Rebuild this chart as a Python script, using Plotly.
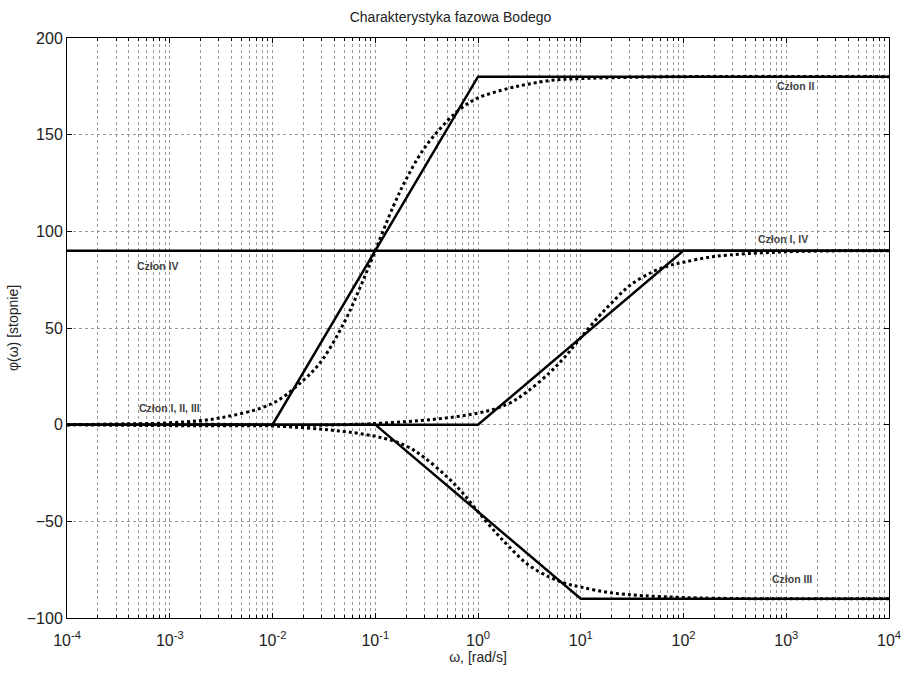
import math
import plotly.graph_objects as go

# Asymptotic (solid) characteristics
w_I_asym = [1e-4, 1, 100, 1e4]
phi_I_asym = [0, 0, 90, 90]
w_II_asym = [1e-4, 0.01, 1, 1e4]
phi_II_asym = [0, 0, 180, 180]
w_III_asym = [1e-4, 0.1, 10, 1e4]
phi_III_asym = [0, 0, -90, -90]
w_IV = [1e-4, 1e4]
phi_IV = [90, 90]

# Exact (dotted) characteristics
w_II = [1e-4, 1e-3, 3e-3, 1e-2, 2e-2, 3e-2, 5e-2, 7e-2, 0.1, 0.15, 0.2, 0.3, 0.5, 0.7, 1, 2, 3, 5, 10, 100, 1e4]
phi_II = [0, 1, 3.4, 11, 23, 33, 53, 70, 90, 113, 127, 143, 157, 164, 169, 174, 176, 178, 179, 180, 180]
w_III = [1e-4, 1e-2, 0.1, 0.2, 0.3, 0.5, 0.7, 1, 1.5, 2, 3, 5, 7, 10, 20, 100, 1e4]
phi_III = [0, -0.6, -6, -11, -17, -27, -35, -45, -56, -63, -72, -79, -82, -84, -87, -89.4, -90]
w_I = [1e-4, 0.1, 1, 2, 3, 5, 7, 10, 15, 20, 30, 50, 70, 100, 200, 1000, 1e4]
phi_I = [0, 0.6, 6, 11, 17, 27, 35, 45, 56, 63, 72, 79, 82, 84, 87, 89.4, 90]

x_tickvals = [1e-4, 1e-3, 1e-2, 1e-1, 1, 10, 100, 1000, 1e4]
x_ticktext = ["10<sup>-4</sup>", "10<sup>-3</sup>", "10<sup>-2</sup>", "10<sup>-1</sup>", "10<sup>0</sup>",
              "10<sup>1</sup>", "10<sup>2</sup>", "10<sup>3</sup>", "10<sup>4</sup>"]

labels = ["Człon II", "Człon I, IV", "Człon IV", "Człon I, II, III", "Człon III"]
label_w = [1217, 930, 7.6e-4, 1e-3, 1150]
label_phi = [175, 96, 82, 8.8, -80]

fig = go.Figure()
solid = dict(color="black", width=2.5)
dotted = dict(color="black", width=3, dash="dot")
for w, p in [(w_II, phi_II), (w_III, phi_III), (w_I, phi_I)]:
    fig.add_trace(go.Scatter(x=w, y=p, mode="lines", line=dotted, line_shape="spline", showlegend=False))
for w, p in [(w_I_asym, phi_I_asym), (w_II_asym, phi_II_asym), (w_III_asym, phi_III_asym), (w_IV, phi_IV)]:
    fig.add_trace(go.Scatter(x=w, y=p, mode="lines", line=solid, showlegend=False))

for t, x, y in zip(labels, label_w, label_phi):
    fig.add_annotation(x=math.log10(x), y=y, text="<b>" + t + "</b>", showarrow=False,
                       font=dict(family="Liberation Sans", size=10.5, color="#444"))

axis_common = dict(showline=True, linecolor="black", linewidth=1, mirror="ticks",
                   ticks="inside", ticklen=5, tickcolor="black", automargin=False,
                   ticklabeloverflow="allow",
                   showgrid=True, gridcolor="#999", griddash="dot", gridwidth=1,
                   zeroline=False, tickfont=dict(family="Liberation Sans", size=16, color="#222"))
fig.update_xaxes(type="log", range=[-4, 4], tickvals=x_tickvals, ticktext=x_ticktext, ticklabelstandoff=8,
                 minor=dict(dtick="D1", ticks="inside", ticklen=3, tickcolor="black",
                            showgrid=True, gridcolor="#999", griddash="dot"),
                 title=dict(text="ω, [rad/s]", font=dict(family="Liberation Sans", size=14, color="#222"), standoff=0),
                 **axis_common)
fig.update_yaxes(range=[-100, 200], dtick=50,
                 title=dict(text="φ(ω) [stopnie]", font=dict(family="Liberation Sans", size=14, color="#222"), standoff=4),
                 **axis_common)
fig.update_layout(
    width=901, height=673,
    margin=dict(l=67, r=12, t=38, b=55),
    plot_bgcolor="white", paper_bgcolor="white",
    title=dict(text="Charakterystyka fazowa Bodego", x=0.5, xanchor="center", y=0.975, yanchor="middle",
               font=dict(family="Liberation Sans", size=14, color="#222")),
)
fig.write_html("out.html")
